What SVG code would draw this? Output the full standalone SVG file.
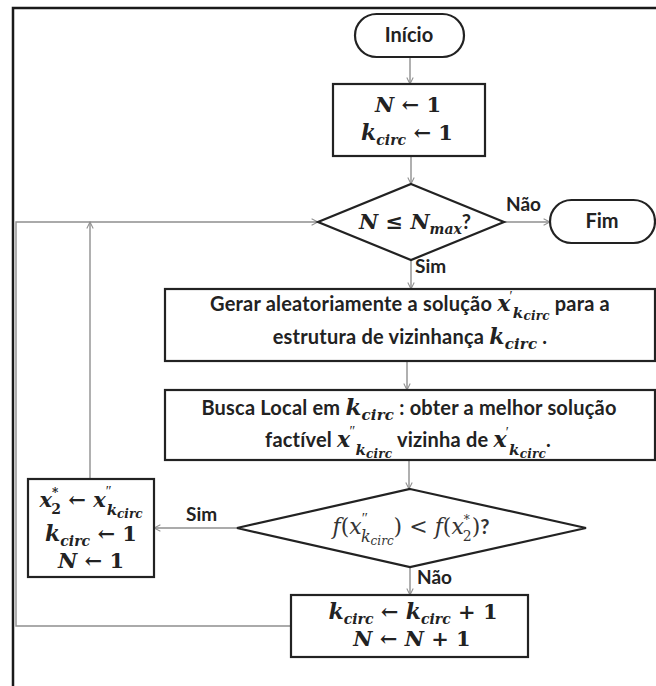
<svg xmlns="http://www.w3.org/2000/svg" width="656" height="686" viewBox="0 0 656 686">
<style>
.nd{fill:#fff;stroke:#222;stroke-width:2.2}
.cn{fill:none;stroke:#8f8f8f;stroke-width:1.4}
.t{font-family:Lato,"Open Sans","Liberation Sans",sans-serif;font-weight:700;font-size:20px;fill:#222}
.c{text-anchor:middle}
.m{font-family:"DejaVu Serif","Liberation Serif",serif;font-style:italic;font-weight:700;fill:#222}
.mr{font-family:"DejaVu Serif","Liberation Serif",serif;font-style:italic;font-weight:400;fill:#333}
.r{font-style:normal}
.p{font-family:"Liberation Serif","DejaVu Serif",serif;font-style:normal;font-weight:400}
.s{font-family:Lato,"Open Sans",sans-serif;font-style:normal;font-weight:700}
</style>
<defs>
<marker id="ah" viewBox="0 0 10 10" refX="9" refY="5" markerWidth="8" markerHeight="8" markerUnits="userSpaceOnUse" orient="auto">
<path d="M1,1 L9,5 L1,9" fill="none" stroke="#8f8f8f" stroke-width="1.3"/>
</marker>
</defs>
<rect width="656" height="686" fill="#fff"/>
<path d="M13,686 V8 H656" fill="none" stroke="#1a1a1a" stroke-width="2.5"/>

<g id="connectors">
<path class="cn" d="M410,57 V84" marker-end="url(#ah)"/>
<path class="cn" d="M411,156 V184" marker-end="url(#ah)"/>
<path class="cn" d="M504,222 H550" marker-end="url(#ah)"/>
<path class="cn" d="M411,260 V289" marker-end="url(#ah)"/>
<path class="cn" d="M407,361 V390" marker-end="url(#ah)"/>
<path class="cn" d="M409,460 V489" marker-end="url(#ah)"/>
<path class="cn" d="M237,528 H154" marker-end="url(#ah)"/>
<path class="cn" d="M410,567 V595" marker-end="url(#ah)"/>
<path class="cn" d="M291,626 H16 V222 H318" marker-end="url(#ah)"/>
<path class="cn" d="M90,479 V222" marker-end="url(#ah)"/>
<text class="t" x="506" y="211" style="font-size:19px">Não</text>
<text class="t" x="415" y="273" style="font-size:19px">Sim</text>
<text class="t" x="186" y="521" style="font-size:19px">Sim</text>
<text class="t" x="417" y="584" style="font-size:19px">Não</text>
</g>

<g id="inicio">
<rect class="nd" x="355" y="14" width="109" height="43" rx="21.5"/>
<text class="t c" x="409" y="42">Início</text>
</g>

<g id="init">
<rect class="nd" x="333" y="84" width="152" height="72"/>
<text class="m c" x="408" y="112" style="font-size:21px">N<tspan class="r"> ← 1</tspan></text>
<text class="m c" x="407" y="140" style="font-size:21px"><tspan style="font-size:22px">k</tspan><tspan style="font-size:14px" dy="5">circ</tspan><tspan class="r" dy="-5"> ← 1</tspan></text>
</g>

<g id="cond1">
<polygon class="nd" points="411,184 504,222 411,260 318,222"/>
<text class="m c" x="415" y="229" style="font-size:21px">N ≤ N<tspan style="font-size:14px" dy="5">max</tspan><tspan class="s" dy="-5" style="font-size:20px">?</tspan></text>
</g>

<g id="fim">
<rect class="nd" x="550" y="200" width="105" height="43" rx="21.5"/>
<text class="t c" x="602" y="228">Fim</text>
</g>

<g id="gerar">
<rect class="nd" x="165" y="289" width="490" height="72"/>
<text class="t c" x="410" y="311" style="letter-spacing:0.2px">Gerar aleatoriamente a solução <tspan class="m" style="font-size:22px">x</tspan><tspan class="p" style="font-size:14px" dx="-1" dy="-10">′</tspan><tspan class="m" style="font-size:15px" dy="17">k</tspan><tspan class="m" style="font-size:12px" dy="2">circ</tspan><tspan dy="-9"> para a</tspan></text>
<text class="t c" x="410" y="344" style="letter-spacing:0.2px">estrutura de vizinhança <tspan class="m" style="font-size:22px">k</tspan><tspan class="m" style="font-size:15px" dy="5">circ</tspan><tspan dy="-5"> .</tspan></text>
</g>

<g id="busca">
<rect class="nd" x="165" y="390" width="490" height="70"/>
<text class="t c" x="409" y="415" style="letter-spacing:0.2px">Busca Local em <tspan class="m" style="font-size:23px">k</tspan><tspan class="m" style="font-size:15px" dy="5">circ</tspan><tspan dy="-5"> : obter a melhor solução</tspan></text>
<text class="t c" x="408" y="447" style="letter-spacing:0.2px">factível <tspan class="m" style="font-size:22px">x</tspan><tspan class="p" style="font-size:14px" dx="-1" dy="-11">″</tspan><tspan class="m" style="font-size:15px" dy="19">k</tspan><tspan class="m" style="font-size:12px" dy="3">circ</tspan><tspan dy="-11"> vizinha de </tspan><tspan class="m" style="font-size:22px">x</tspan><tspan class="p" style="font-size:14px" dx="-1" dy="-10">′</tspan><tspan class="m" style="font-size:15px" dy="18">k</tspan><tspan class="m" style="font-size:12px" dy="3">circ</tspan><tspan dy="-11">.</tspan></text>
</g>

<g id="cond2">
<polygon class="nd" points="410,489 586,528 410,567 237,528"/>
<text class="mr c" x="411" y="534" style="font-size:22px">f<tspan class="r">(</tspan>x<tspan class="p" style="font-size:15px" dy="-11">″</tspan><tspan style="font-size:16px" dx="-7" dy="19">k</tspan><tspan style="font-size:12px" dy="3">circ</tspan><tspan class="r" dy="-11">) &lt; </tspan>f<tspan class="r">(</tspan>x<tspan style="font-size:12px" dy="-10">*</tspan><tspan class="r" style="font-size:14px" dx="-7" dy="17">2</tspan><tspan class="r" dy="-7">)</tspan><tspan class="s" style="font-size:20px">?</tspan></text>
</g>

<g id="reset">
<rect class="nd" x="28" y="479" width="126" height="98"/>
<text class="m c" x="91" y="507" style="font-size:21px">x<tspan style="font-size:12px" dy="-10">*</tspan><tspan class="r" style="font-size:14px" dx="-7" dy="17">2</tspan><tspan class="r" dy="-7"> ← </tspan>x<tspan class="p" style="font-size:14px" dy="-11">″</tspan><tspan style="font-size:15px" dx="-5" dy="19">k</tspan><tspan style="font-size:12px" dy="3">circ</tspan></text>
<text class="m c" x="91" y="541" style="font-size:21px"><tspan style="font-size:22px">k</tspan><tspan style="font-size:14px" dy="5">circ</tspan><tspan class="r" dy="-5"> ← 1</tspan></text>
<text class="m c" x="91" y="568" style="font-size:21px">N<tspan class="r"> ← 1</tspan></text>
</g>

<g id="incr">
<rect class="nd" x="291" y="595" width="237" height="62"/>
<text class="m c" x="413" y="619" style="font-size:21px"><tspan style="font-size:22px">k</tspan><tspan style="font-size:14px" dy="5">circ</tspan><tspan class="r" dy="-5"> ← </tspan><tspan style="font-size:22px">k</tspan><tspan style="font-size:14px" dy="5">circ</tspan><tspan class="r" dy="-5"> + 1</tspan></text>
<text class="m c" x="412" y="646" style="font-size:21px">N<tspan class="r"> ← </tspan>N<tspan class="r"> + 1</tspan></text>
</g>
</svg>
